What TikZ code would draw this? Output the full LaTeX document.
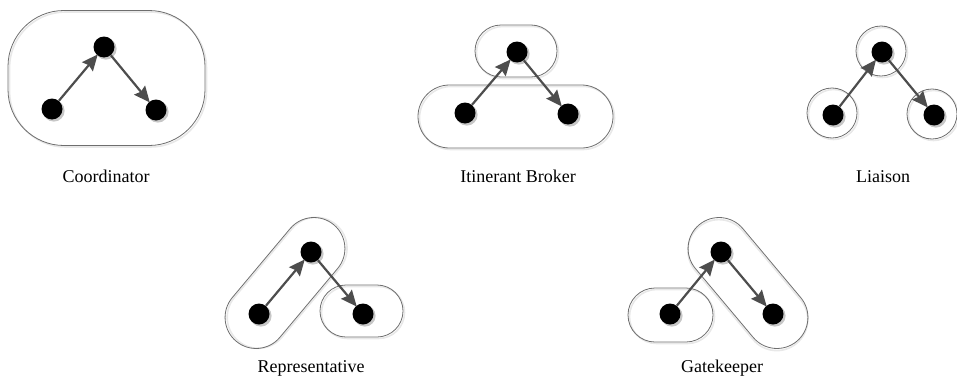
\documentclass[tikz,border=0pt]{standalone}
\usepackage{fontspec}
\setmainfont{Liberation Serif}
\usetikzlibrary{arrows.meta,calc}
\definecolor{edgegray}{HTML}{4D4D4D}
\definecolor{hullgray}{HTML}{6E6E6E}
\tikzset{
  actor/.style={circle,fill=black,inner sep=0pt,minimum size=21pt},
  flow/.style={draw=edgegray,line width=2.2pt,shorten >=-1pt,
    -{Stealth[length=16pt,width=14pt,inset=2pt]}},
  hull/.style={draw=hullgray,line width=0.8pt},
  hullshade/.style={draw=black!9,line width=1.6pt},
  caption/.style={anchor=base,font=\fontsize{18}{20}\selectfont,text=black}
}
% a pill of the given half length and radius, centred at the origin
\newcommand{\pillshape}[3]{%
  \draw[hullshade,shift={(1.5,1.5)},rounded corners=#3pt] (-#2,-#3) rectangle (#2,#3);
  \draw[#1,rounded corners=#3pt] (-#2,-#3) rectangle (#2,#3);}
% three actors with the two flows between them
\newcommand{\triad}[7]{%
  \foreach \p in {(#2,#3),(#4,#5),(#6,#7)}
    \fill[black!22] \p ++(1.8,1.8) circle (10.8pt);
  \node[actor] (#1l) at (#2,#3) {};
  \node[actor] (#1t) at (#4,#5) {};
  \node[actor] (#1r) at (#6,#7) {};
  \draw[flow] (#1l) -- (#1t);
  \draw[flow] (#1t) -- (#1r);}
\begin{document}
\begin{tikzpicture}[x=1pt,y=-1pt]
\useasboundingbox (0,0) rectangle (957,380);

% Coordinator: one enclosing group
\begin{scope}[shift={(106.5,78)}]
  \draw[hullshade,shift={(1.5,1.5)},rounded corners=56pt] (-98.5,-67.5) rectangle (98.5,67.5);
  \draw[hull,rounded corners=56pt] (-98.5,-67.5) rectangle (98.5,67.5);
\end{scope}
\triad{c}{52}{109}{104}{47}{156}{110}
\node[caption] (capc) at (106,182) {Coordinator};

% Itinerant Broker
\begin{scope}[shift={(516,51)}]\pillshape{hull}{41}{26}\end{scope}
\begin{scope}[shift={(515.5,116.5)}]\pillshape{hull}{97.5}{31.5}\end{scope}
\triad{i}{465}{113}{517}{52}{568}{114}
\node[caption] (capi) at (518,182) {Itinerant Broker};

% Liaison
\foreach \c in {(881,51),(832,113),(932,114)}{
  \draw[hullshade] \c ++(1.5,1.5) circle (25pt);
  \draw[hull] \c circle (25pt);}
\triad{l}{833}{115}{882}{52}{934}{115}
\node[caption] (capl) at (883,182) {Liaison};

% Representative
\begin{scope}[shift={(285,283)},rotate=50]\pillshape{hull}{76}{31}\end{scope}
\begin{scope}[shift={(361.5,311)}]\pillshape{hull}{41.5}{26}\end{scope}
\triad{r}{259}{314}{311}{252}{363}{314}
\node[caption] (capr) at (311,372) {Representative};

% Gatekeeper
\begin{scope}[shift={(748,283)},rotate=-50]\pillshape{hull}{76}{31}\end{scope}
\begin{scope}[shift={(670.5,315)}]\pillshape{hull}{42.5}{27}\end{scope}
\triad{g}{670}{314}{721}{252}{773}{314}
\node[caption] (capg) at (722,372) {Gatekeeper};
\end{tikzpicture}
\end{document}
